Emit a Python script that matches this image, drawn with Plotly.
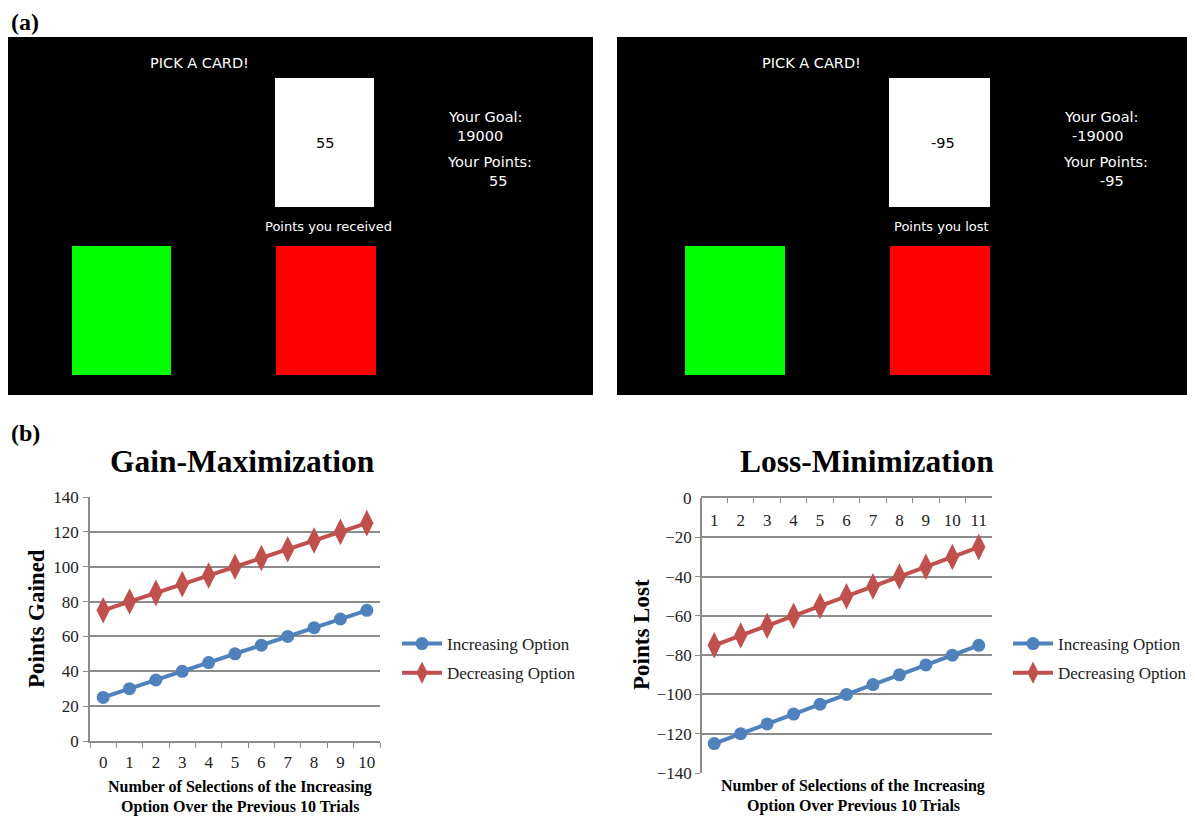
import plotly.graph_objects as go

W, H = 1195, 817
OFF = 8  # page body margin: figure pixel = page pixel - OFF

# ---------------- data ----------------
gain_x = ["0", "1", "2", "3", "4", "5", "6", "7", "8", "9", "10"]
gain_increasing = [25, 30, 35, 40, 45, 50, 55, 60, 65, 70, 75]
gain_decreasing = [75, 80, 85, 90, 95, 100, 105, 110, 115, 120, 125]

loss_x = ["1", "2", "3", "4", "5", "6", "7", "8", "9", "10", "11"]
loss_increasing = [-125, -120, -115, -110, -105, -100, -95, -90, -85, -80, -75]
loss_decreasing = [-75, -70, -65, -60, -55, -50, -45, -40, -35, -30, -25]

series_names = ["Increasing Option", "Decreasing Option"]
gain_yticks = [0, 20, 40, 60, 80, 100, 120, 140]
loss_yticks = [-140, -120, -100, -80, -60, -40, -20, 0]

screen_texts_gain = ["PICK A CARD!", "55", "Your Goal:", "19000", "Your Points:", "55", "Points you received"]
screen_texts_loss = ["PICK A CARD!", "-95", "Your Goal:", "-19000", "Your Points:", "-95", "Points you lost"]

BLUE = "#4F81BD"
RED = "#C0504D"
GRID = "#8C8C8C"
SERIF = "Liberation Serif, Times New Roman, serif"
SANS = "DejaVu Sans, Verdana, sans-serif"


def px(x):
    return (x - OFF) / W


def py(y):
    return 1 - (y - OFF) / H


fig = go.Figure()

# ---------------- line charts ----------------
fig.add_trace(go.Scatter(
    x=gain_x, y=gain_increasing, name=series_names[0], mode="lines+markers",
    line=dict(color=BLUE, width=4), marker=dict(symbol="circle", size=13, color=BLUE),
    xaxis="x", yaxis="y", legend="legend", legendgroup="a"))
fig.add_trace(go.Scatter(
    x=gain_x, y=gain_decreasing, name=series_names[1], mode="lines+markers",
    line=dict(color=RED, width=4), marker=dict(symbol="diamond-tall", size=19, color=RED),
    xaxis="x", yaxis="y", legend="legend", legendgroup="b"))
fig.add_trace(go.Scatter(
    x=loss_x, y=loss_increasing, name=series_names[0], mode="lines+markers",
    line=dict(color=BLUE, width=4), marker=dict(symbol="circle", size=13, color=BLUE),
    xaxis="x2", yaxis="y2", legend="legend2", legendgroup="c"))
fig.add_trace(go.Scatter(
    x=loss_x, y=loss_decreasing, name=series_names[1], mode="lines+markers",
    line=dict(color=RED, width=4), marker=dict(symbol="diamond-tall", size=19, color=RED),
    xaxis="x2", yaxis="y2", legend="legend2", legendgroup="d"))

TICKFONT = dict(family=SERIF, size=17, color="#222")
LEGFONT = dict(family=SERIF, size=17, color="#222")
axis_common = dict(showline=True, linecolor=GRID, linewidth=1.5, mirror=False,
                   tickfont=TICKFONT, tickcolor=GRID,
                   ticklen=5, tickwidth=1.2, zeroline=False, automargin=False)

fig.update_layout(
    width=W, height=H,
    margin=dict(l=0, r=0, t=0, b=0, autoexpand=False),
    paper_bgcolor="white", plot_bgcolor="white",
    showlegend=True,
    xaxis=dict(domain=[px(90), px(380)], anchor="y", type="category",
               range=[-0.5, 10.5], tickson="boundaries", ticks="outside",
               ticklabelstandoff=5, showgrid=False, **axis_common),
    yaxis=dict(domain=[py(741), py(497)], anchor="x", range=[0, 140],
               tickvals=gain_yticks, ticks="outside", showgrid=True,
               ticklabelstandoff=1, gridcolor=GRID, gridwidth=1.5, **axis_common),
    xaxis2=dict(domain=[px(701), px(992)], anchor="y2", type="category",
                range=[-0.5, 10.5], tickson="boundaries", ticks="inside",
                side="top", ticklabelposition="inside", ticklabelstandoff=12,
                showgrid=False, **axis_common),
    yaxis2=dict(domain=[py(773), py(498)], anchor="free", position=px(701),
                range=[-140, 0], tickvals=loss_yticks, ticks="outside", showgrid=True,
                gridcolor=GRID, gridwidth=1.5, **axis_common),
    legend=dict(x=px(397), y=py(626), xanchor="left", yanchor="top",
                font=LEGFONT, tracegroupgap=4, itemwidth=40, bgcolor="rgba(0,0,0,0)"),
    legend2=dict(x=px(1008), y=py(626), xanchor="left", yanchor="top",
                 font=LEGFONT, tracegroupgap=4, itemwidth=40, bgcolor="rgba(0,0,0,0)"),
)

# ---------------- screenshot panels (a) ----------------
shapes = []


def rect(x0, y0, x1, y1, color):
    shapes.append(dict(type="rect", xref="paper", yref="paper",
                       x0=px(x0), x1=px(x1), y0=py(y1), y1=py(y0),
                       fillcolor=color, line=dict(width=0), layer="below"))


# left screen
rect(5, 37, 593, 395, "black")
rect(275, 78, 374, 207, "white")
rect(72, 246, 171, 375, "#00FF00")
rect(276, 246, 376, 375, "#FF0000")
# right screen
rect(617, 37, 1203, 395, "black")
rect(889, 78, 990, 207, "white")
rect(685, 246, 785, 375, "#00FF00")
rect(890, 246, 990, 375, "#FF0000")

annotations = []


def text(x, y, s, size, color="black", family=SANS, bold=False, xanchor="center", angle=0):
    if bold:
        s = "<b>" + s + "</b>"
    annotations.append(dict(x=px(x), y=py(y), xref="paper", yref="paper", text=s,
                            showarrow=False, xanchor=xanchor, yanchor="middle",
                            textangle=angle,
                            font=dict(family=family, size=size, color=color)))


# panel labels
text(9, 22, "(a)", 24, family=SERIF, bold=True, xanchor="left")
text(9, 433, "(b)", 24, family=SERIF, bold=True, xanchor="left")

for offs, texts, num_x in ((0, screen_texts_gain, (325, 446, 455, 445, 487, 328)),
                           (612, screen_texts_loss, (331, 450, 458, 449, 486, 329))):
    text(199 + offs, 63, texts[0], 14.5, color="white")
    text(num_x[0] + offs, 143, texts[1], 14.5, color="black")
    text(num_x[1] + offs, 117, texts[2], 14.5, color="white", xanchor="left")
    text(num_x[2] + offs, 136, texts[3], 14.5, color="white", xanchor="left")
    text(num_x[3] + offs, 162, texts[4], 14.5, color="white", xanchor="left")
    text(num_x[4] + offs, 181, texts[5], 14.5, color="white", xanchor="left")
    text(num_x[5] + offs, 227, texts[6], 13, color="white")

# top tick label of the loss chart's y axis (hidden by plotly next to inside x labels)
annotations.append(dict(x=px(701), y=loss_yticks[-1], xref="paper", yref="y2",
                        text=str(loss_yticks[-1]), showarrow=False, xanchor="right",
                        yanchor="middle", xshift=-7, font=TICKFONT))

# chart titles
text(242, 461, "Gain-Maximization", 31.5, family=SERIF, bold=True)
text(867, 461, "Loss-Minimization", 31.5, family=SERIF, bold=True)
# y axis titles
text(36, 619, "Points Gained", 23, family=SERIF, bold=True, angle=-90)
text(641, 635, "Points Lost", 23, family=SERIF, bold=True, angle=-90)
# x axis titles
text(240, 787, "Number of Selections of the Increasing", 16, family=SERIF, bold=True)
text(240, 807, "Option Over the Previous 10 Trials", 16, family=SERIF, bold=True)
text(853, 786, "Number of Selections of the Increasing", 16, family=SERIF, bold=True)
text(853, 806, "Option Over Previous 10 Trials", 16, family=SERIF, bold=True)

fig.update_layout(shapes=shapes, annotations=annotations)

fig.write_html("out.html")
